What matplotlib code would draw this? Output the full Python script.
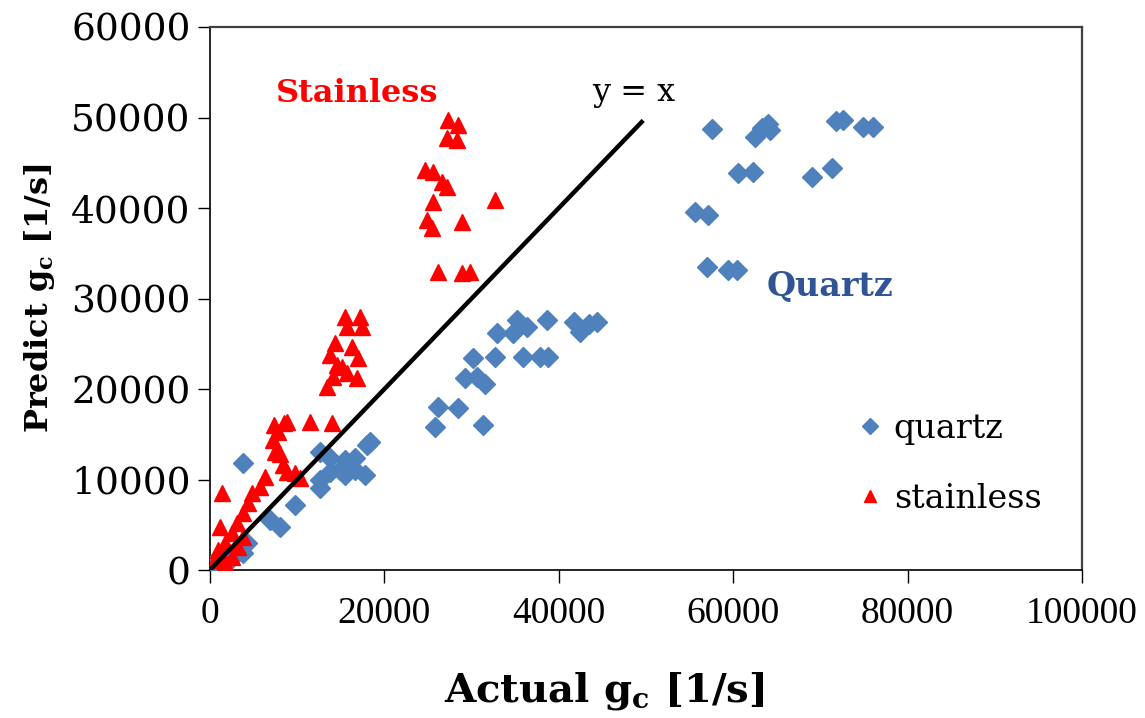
import matplotlib
matplotlib.use("Agg")
import matplotlib.pyplot as plt

plt.rcParams['font.family'] = 'DejaVu Serif'
plt.rcParams['mathtext.fontset'] = 'custom'
plt.rcParams['mathtext.rm'] = 'DejaVu Serif'
plt.rcParams['mathtext.bf'] = 'DejaVu Serif:bold'

# measured vs predicted gc [1/s]
quartz_x = [57600, 62500, 63300, 64200, 64000, 71800, 72600, 74900, 76000,
            60600, 62300, 69000, 71300, 55600, 57100, 57000, 59400, 60400,
            35200, 36300, 38600, 41700, 42400, 43500, 44400, 32900, 34700,
            30200, 32700, 35900, 37800, 38800, 29200, 30600, 31500, 26100,
            28400, 25800, 31300,
            3800, 18300, 18000, 12600, 13800, 15500, 16600, 14900, 16600,
            17800, 13800, 15500, 12600, 12600, 9700, 6900, 8000, 4200, 3800,
            300, 2600]
quartz_y = [48700, 47800, 48800, 48600, 49300, 49600, 49700, 49000, 49000,
            43900, 44000, 43400, 44400, 39600, 39200, 33500, 33100, 33100,
            27600, 26900, 27600, 27400, 26300, 27200, 27400, 26200, 26200,
            23400, 23500, 23500, 23500, 23500, 21200, 21300, 20600, 18000,
            17900, 15800, 16000,
            11800, 14100, 13800, 13000, 12400, 12200, 12400, 11000, 11000,
            10500, 10800, 10500, 9900, 9100, 7200, 5500, 4800, 3000, 1900,
            800, 1400]

stainless_x = [27300, 28400, 27200, 28300, 24700, 25600, 26600, 27200, 32700,
               25600, 24900, 25500, 28900, 26100, 28900, 29800,
               15500, 17200, 15700, 17400, 14300, 13800, 16300, 17000, 15100,
               14100, 13400, 16900, 15700, 14600, 8800, 11500, 14000,
               7300, 7800, 7200, 8500, 7500, 8000, 8400, 8800, 9700, 10300,
               6300, 5700, 1400, 4800, 4400, 3800, 3100, 1100, 2500, 1700,
               900, 3200, 600, 1700, 2500, 3800]
stainless_y = [49700, 49200, 47700, 47500, 44200, 44000, 42900, 42300, 40900,
               40700, 38700, 37800, 38500, 32900, 32800, 32900,
               28000, 28000, 26900, 26900, 25100, 23800, 24600, 23400, 22400,
               21300, 20200, 21200, 21800, 22700, 16400, 16400, 16200,
               16000, 15200, 14400, 16200, 13000, 12800, 11600, 10800, 10700,
               10200, 10300, 9200, 8500, 8500, 7400, 6300, 5200, 4800, 4100,
               3000, 2200, 2500, 1100, 900, 1400, 3600]

line_end = 49500

fig = plt.figure(figsize=(11.45, 7.18), dpi=100)
ax = fig.add_axes([0.1834, 0.2061, 0.7616, 0.7563])

ax.plot(quartz_x, quartz_y, linestyle='none', marker='D', markersize=10,
        color='#4F81BD', label='quartz', zorder=3)
ax.plot(stainless_x, stainless_y, linestyle='none', marker='^', markersize=11,
        color='#FF0000', label='stainless', zorder=3)
ax.plot([0, line_end], [0, line_end], color='black', linewidth=3.2, zorder=4)

ax.text(48600, 52800, 'y = x', fontsize=23, ha='center', va='center')
ax.text(16900, 52600, 'Stainless', fontsize=23, fontweight='bold',
        color='#FF0000', ha='center', va='center')
ax.text(71100, 31300, 'Quartz', fontsize=24, fontweight='bold',
        color='#2F5597', ha='center', va='center')

ax.set_xlim(0, 100000)
ax.set_ylim(0, 60000)
ax.set_xticks(range(0, 100001, 20000))
ax.set_yticks(range(0, 60001, 10000))
ax.tick_params(width=1, length=9, direction='out')
ax.tick_params(axis='y', labelsize=27, pad=5)
ax.tick_params(axis='x', pad=10)
for lbl in ax.get_xticklabels():
    lbl.set_fontfamily('Liberation Serif')
    lbl.set_fontsize(27)

for side in ['left', 'bottom']:
    ax.spines[side].set_linewidth(1.2)
for side in ['top', 'right']:
    ax.spines[side].set_linewidth(1.6)
    ax.spines[side].set_color('#404040')

ax.set_xlabel(r'Actual g$_\mathbf{c}$ [1/s]', fontsize=29, fontweight='bold')
ax.xaxis.label.set_va('center')
ax.xaxis.set_label_coords(0.452, -0.222)
ax.set_ylabel(r'Predict g$_\mathbf{c}$ [1/s]', fontsize=23, fontweight='bold',
              labelpad=10)

ax.legend(loc='upper left', bbox_to_anchor=(0.70, 0.345), frameon=False,
          fontsize=24, labelspacing=1.15, handletextpad=0.1, markerscale=0.8,
          handlelength=1.2)

fig.savefig('out.png', dpi=100)
